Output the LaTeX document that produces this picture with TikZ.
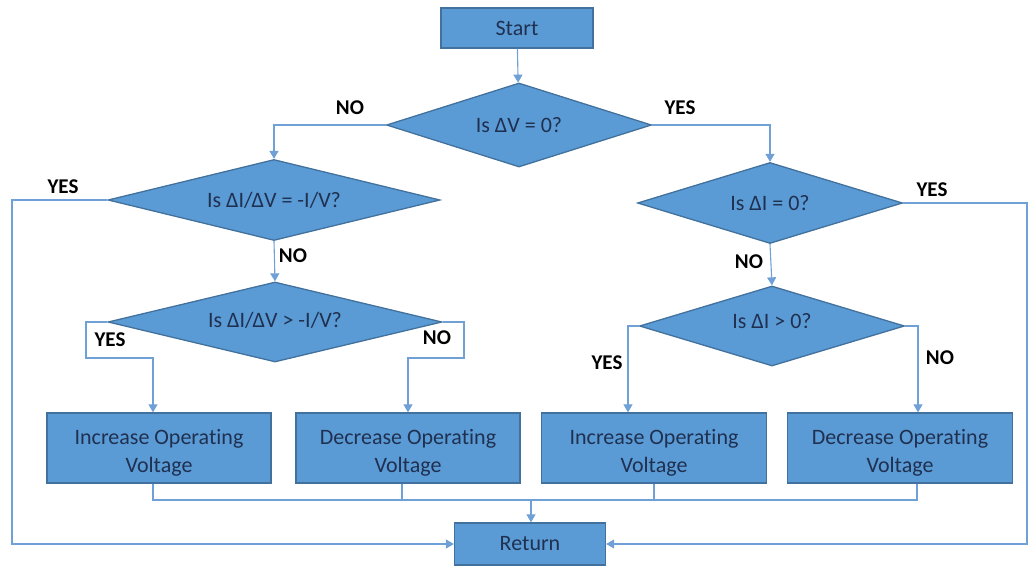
\documentclass[tikz,border=0pt]{standalone}
\usepackage{fontspec}
\setmainfont{Carlito}[Ligatures=NoCommon]
\usetikzlibrary{shapes.geometric,arrows.meta}
\definecolor{boxfill}{HTML}{5B9BD5}
\definecolor{boxline}{HTML}{41719C}
\definecolor{conn}{HTML}{6FA0D6}
\definecolor{txt}{HTML}{1F3050}
\tikzset{
  pbox/.style={draw=boxline, fill=boxfill, line width=1.3pt, inner sep=0pt},
  ptxt/.style={text=txt, inner sep=0pt, align=center, font=\fontsize{22}{28}\selectfont},
  dia/.style={diamond, draw=boxline, fill=boxfill, line width=1.3pt, inner sep=0pt},
  conn/.style={draw=conn, line width=1.1pt},
  arr/.style={conn, -{Triangle[width=9pt,length=8pt]}},
  lab/.style={font=\bfseries\fontsize{21}{24}\selectfont, text=black, inner sep=0pt},
}
\begin{document}
\begin{tikzpicture}[x=1pt,y=-1pt]
\useasboundingbox (0,0) rectangle (1029,567);
% shapes
\node[pbox, minimum width=152pt, minimum height=40pt] (start) at (517,28) {};
\node[dia, minimum width=265pt, minimum height=84pt] (d1) at (519,125) {};
\node[dia, minimum width=332pt, minimum height=81pt] (d2) at (274,200) {};
\node[dia, minimum width=265pt, minimum height=81pt] (d3) at (770,203) {};
\node[dia, minimum width=334pt, minimum height=80pt] (d4) at (275,322) {};
\node[dia, minimum width=265pt, minimum height=80pt] (d5) at (772,326) {};
\node[pbox, minimum width=224pt, minimum height=70pt] (i1) at (159,448) {};
\node[pbox, minimum width=224pt, minimum height=70pt] (e1) at (408,448) {};
\node[pbox, minimum width=225pt, minimum height=70pt] (i2) at (654,448) {};
\node[pbox, minimum width=225pt, minimum height=70pt] (e2) at (900,448) {};
\node[pbox, minimum width=151pt, minimum height=42pt] (ret) at (530,544) {};
% texts
\node[ptxt] (tstart) at (start) {Start};
\node[ptxt] (td1) at (d1) {Is ΔV = 0?};
\node[ptxt] (td2) at (d2) {Is ΔI/ΔV = -I/V?};
\node[ptxt] (td3) at (d3) {Is ΔI = 0?};
\node[ptxt] (td4) at ([yshift=2pt]d4) {Is ΔI/ΔV > -I/V?};
\node[ptxt] (td5) at ([yshift=5pt]d5) {Is ΔI > 0?};
\node[ptxt] (ti1) at ([yshift=-5pt]i1) {Increase Operating\\Voltage};
\node[ptxt] (te1) at ([yshift=-5pt]e1) {Decrease Operating\\Voltage};
\node[ptxt] (ti2) at ([yshift=-5pt]i2) {Increase Operating\\Voltage};
\node[ptxt] (te2) at ([yshift=-5pt]e2) {Decrease Operating\\Voltage};
\node[ptxt] (tret) at (ret) {Return};
% helper coordinates
\coordinate (lx) at (12,300);
\coordinate (rx) at (1027,300);
\coordinate (y4) at (86,358);
\coordinate (y4b) at (153,358);
\coordinate (n4) at (464,358);
\coordinate (n4b) at (408,358);
\coordinate (y5) at (628,380);
\coordinate (n5) at (918,380);
\coordinate (m) at (531,500);
% connectors
\draw[arr] (start) -- (d1);
\draw[arr] (d1.west) -| (d2.north);
\draw[arr] (d1.east) -| (d3.north);
\draw[arr] (d2.west) -| (lx) |- (ret.west);
\draw[arr] (d3.east) -| (rx) |- (ret.east);
\draw[arr] (d2.south) -- (d4.north);
\draw[arr] (d3.south) -- (d5.north);
\draw[arr] (d4.west) -| (y4) -- (y4b) -- (y4b |- i1.north);
\draw[arr] (d4.east) -| (n4) -- (n4b) -- (n4b |- e1.north);
\draw[arr] (d5.west) -| (y5) -- (y5 |- i2.north);
\draw[arr] (d5.east) -| (n5) -- (n5 |- e2.north);
\draw[conn] (y4b |- i1.south) |- (m);
\draw[conn] ([xshift=-6pt]e1.south) |- (m);
\draw[conn] (i2.south) |- (m);
\draw[conn] ([xshift=17pt]e2.south) |- (m);
\draw[arr] (m) -- (m |- ret.north);
% labels
\node[lab] (l1) at (350,108) {NO};
\node[lab] (l2) at (680,108) {YES};
\node[lab] (l3) at (63,187) {YES};
\node[lab] (l4) at (293,256) {NO};
\node[lab] (l5) at (932,190) {YES};
\node[lab] (l6) at (749,262) {NO};
\node[lab] (l7) at (110,340) {YES};
\node[lab] (l8) at (437,338) {NO};
\node[lab] (l9) at (607,363) {YES};
\node[lab] (l10) at (940,358) {NO};
\end{tikzpicture}
\end{document}
